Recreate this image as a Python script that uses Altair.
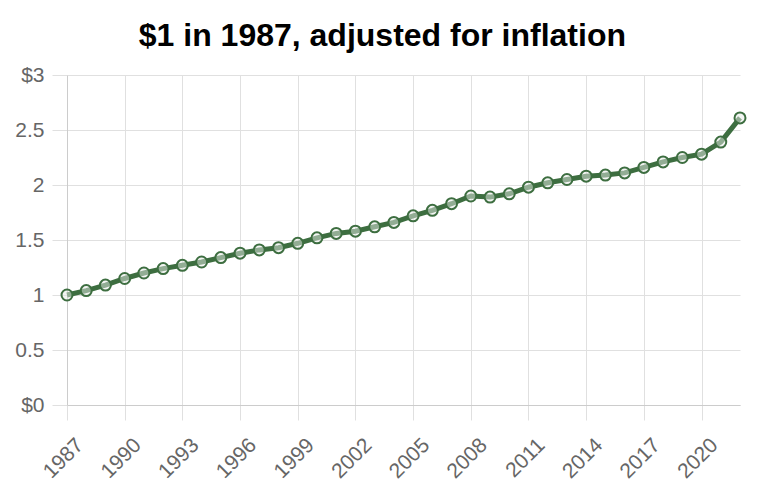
import altair as alt
import pandas as pd

years = list(range(1987, 2023))
values = [1.00, 1.04, 1.09, 1.15, 1.20, 1.24, 1.27, 1.30, 1.34, 1.38,
          1.41, 1.43, 1.47, 1.52, 1.56, 1.58, 1.62, 1.66, 1.72, 1.77,
          1.83, 1.90, 1.89, 1.92, 1.98, 2.02, 2.05, 2.08, 2.09, 2.11,
          2.16, 2.21, 2.25, 2.28, 2.39, 2.61]
x_ticks = list(range(1987, 2021, 3))
y_ticks = [0, 0.5, 1, 1.5, 2, 2.5, 3]

df = pd.DataFrame({"year": years, "value": values})

GREEN = "#3d6e40"
FONT = "Liberation Sans"

x = alt.X("year:Q",
          scale=alt.Scale(domain=[1987, 2022], nice=False, zero=False),
          axis=alt.Axis(values=x_ticks, format="d", title=None, labelAngle=-45,
                        labelFontSize=21, labelColor="#666666", labelFont=FONT,
                        tickSize=15, tickColor="#e0e0e0", gridColor="#e0e0e0",
                        domainColor="#cccccc", labelPadding=14, labelOffset=5))
y = alt.Y("value:Q",
          scale=alt.Scale(domain=[0, 3], nice=False),
          axis=alt.Axis(values=y_ticks, title=None,
                        labelExpr="(datum.value == 0 || datum.value == 3 ? '$' : '') + format(datum.value, '~g')",
                        labelFontSize=21, labelColor="#666666", labelFont=FONT,
                        tickSize=15, tickColor="#e0e0e0", gridColor="#e0e0e0",
                        domainColor="#cccccc", labelPadding=8))

base = alt.Chart(df).encode(x=x, y=y)
line = base.mark_line(color=GREEN, strokeWidth=5)
points = base.mark_point(shape="circle", filled=False, size=120, fill="#e8ece8",
                         fillOpacity=0.5, stroke=GREEN, strokeWidth=2, opacity=1)

chart = (line + points).properties(
    width=673, height=330,
    autosize=alt.AutoSizeParams(type="none"),
    padding={"left": 67, "top": 75, "right": 28, "bottom": 99},
    title=alt.TitleParams("$1 in 1987, adjusted for inflation", font=FONT,
                          fontSize=32, fontWeight="bold", color="#000000",
                          anchor="middle", frame="bounds", offset=11),
).configure_view(stroke=None)

chart.save("out.html", embed_options={"renderer": "svg", "actions": False})
